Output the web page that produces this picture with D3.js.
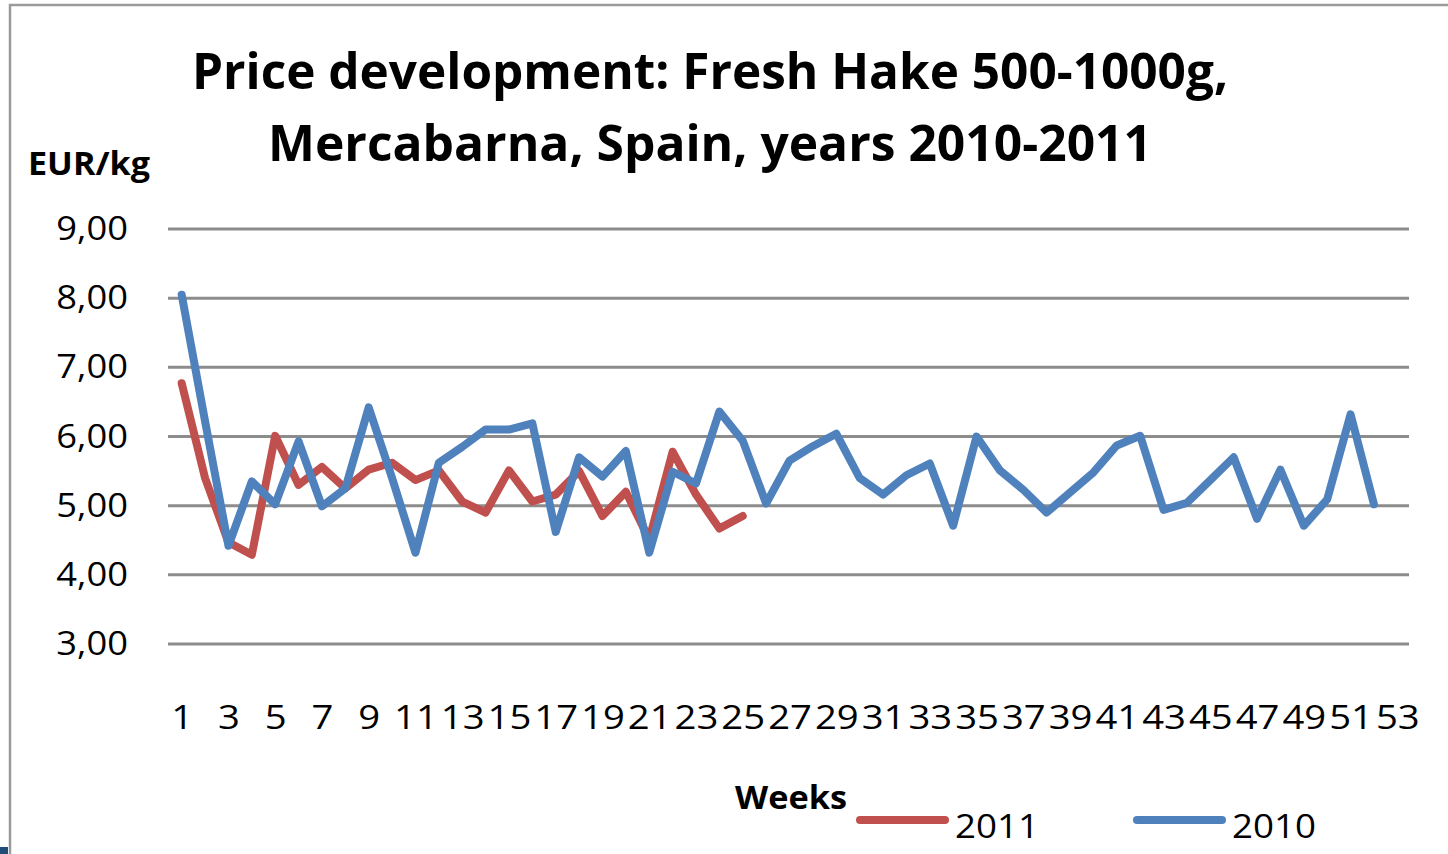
<!DOCTYPE html>
<html>
<head>
<meta charset="utf-8">
<script src="https://cdn.jsdelivr.net/npm/d3@7"></script>
<style>
  html, body { margin: 0; padding: 0; background: #fff; }
  svg { display: block; }
  text { font-family: "Open Sans", "Liberation Sans", sans-serif; fill: #000; }
</style>
</head>
<body>
<div id="chart"></div>
<script>
// Fresh hake prices, Mercabarna - weekly EUR/kg
const weeks = [1,2,3,4,5,6,7,8,9,10,11,12,13,14,15,16,17,18,19,20,21,22,23,24,25,26,27,
  28,29,30,31,32,33,34,35,36,37,38,39,40,41,42,43,44,45,46,47,48,49,50,51,52,53];

const prices2011 = [6.77, 5.40, 4.47, 4.29, 6.01, 5.30, 5.56, 5.25, 5.52, 5.62, 5.37, 5.51, 5.06,
  4.90, 5.51, 5.06, 5.16, 5.50, 4.85, 5.20, 4.51, 5.78, 5.16, 4.67, 4.85];

const prices2010 = [8.05, 6.22, 4.42, 5.35, 5.02, 5.93, 4.99, 5.25, 6.42, 5.40, 4.32, 5.62, 5.85,
  6.10, 6.10, 6.19, 4.62, 5.70, 5.42, 5.79, 4.32, 5.49, 5.32, 6.36, 5.94, 5.03, 5.65, 5.86,
  6.04, 5.40, 5.16, 5.44, 5.61, 4.71, 6.00, 5.51, 5.23, 4.90, 5.19, 5.48, 5.87, 6.01, 4.94,
  5.04, 5.37, 5.70, 4.81, 5.52, 4.71, 5.09, 6.32, 5.02];

const yTicks = [3, 4, 5, 6, 7, 8, 9];

const seriesList = [
  {name: "2011", values: prices2011, color: "#C0504D"},
  {name: "2010", values: prices2010, color: "#4F81BD"}
];

const width = 1448, height = 854;
const svg = d3.select("#chart").append("svg")
  .attr("width", width)
  .attr("height", height);

// outer frame of the chart object
svg.append("path")
  .attr("d", `M10,${height} L10,5 L${width},5`)
  .attr("fill", "none")
  .attr("stroke", "#9a9a9a")
  .attr("stroke-width", 2.5);
svg.append("rect")
  .attr("x", 0).attr("y", 847).attr("width", 8).attr("height", 7)
  .attr("fill", "#1f4e79");

const x = d3.scalePoint()
  .domain(weeks)
  .range([170, 1409])
  .padding(0.5);

const y = d3.scaleLinear()
  .domain([3, 9])
  .range([644, 229]);

// gridlines
svg.append("g")
  .selectAll("line")
  .data(yTicks)
  .join("line")
  .attr("x1", 168)
  .attr("x2", 1409)
  .attr("y1", d => y(d))
  .attr("y2", d => y(d))
  .attr("stroke", "#8c8c8c")
  .attr("stroke-width", 3);

// y axis labels
const yAxis = svg.append("g")
  .attr("transform", "translate(128,0)")
  .call(d3.axisLeft(y).tickValues(yTicks).tickSize(0).tickPadding(0)
    .tickFormat(d => d3.format(".2f")(d).replace(".", ",")));
yAxis.select(".domain").remove();
yAxis.selectAll("text")
  .attr("font-size", 33)
  .attr("font-family", null)
  .attr("transform", "scale(1.1,1)")
  .attr("x", 0);

// x axis labels (odd weeks only)
const xAxis = svg.append("g")
  .attr("transform", "translate(0,700)")
  .call(d3.axisBottom(x).tickValues(weeks.filter(w => w % 2 === 1)).tickSize(0).tickPadding(0));
xAxis.select(".domain").remove();
xAxis.selectAll("text")
  .attr("font-size", 33)
  .attr("font-family", null)
  .attr("y", 0)
  .attr("dy", "0.88em")
  .attr("transform", "scale(1.16,1)");

// lines
const line = d3.line()
  .x((d, i) => x(weeks[i]))
  .y(d => y(d));

svg.append("g")
  .selectAll("path")
  .data(seriesList)
  .join("path")
  .attr("fill", "none")
  .attr("stroke", d => d.color)
  .attr("stroke-width", 8)
  .attr("stroke-linejoin", "round")
  .attr("stroke-linecap", "round")
  .attr("d", d => line(d.values));

// titles
const title = svg.append("g").attr("font-weight", "bold");
title.append("text")
  .attr("x", 192).attr("y", 89)
  .attr("font-size", 50)
  .attr("textLength", 1036).attr("lengthAdjust", "spacingAndGlyphs")
  .text("Price development: Fresh Hake 500-1000g,");
title.append("text")
  .attr("x", 268).attr("y", 161)
  .attr("font-size", 50)
  .attr("textLength", 884).attr("lengthAdjust", "spacingAndGlyphs")
  .text("Mercabarna, Spain, years 2010-2011");
title.append("text")
  .attr("x", 28).attr("y", 175)
  .attr("font-size", 32)
  .attr("textLength", 122).attr("lengthAdjust", "spacingAndGlyphs")
  .text("EUR/kg");
title.append("text")
  .attr("x", 735).attr("y", 809)
  .attr("font-size", 33)
  .attr("textLength", 112).attr("lengthAdjust", "spacingAndGlyphs")
  .text("Weeks");

// legend
const legendPos = [{lx: 860, tx: 955}, {lx: 1137, tx: 1232}];
const legend = svg.append("g")
  .selectAll("g")
  .data(seriesList)
  .join("g");
legend.append("line")
  .attr("x1", (d, i) => legendPos[i].lx)
  .attr("x2", (d, i) => legendPos[i].lx + 85)
  .attr("y1", 820).attr("y2", 820)
  .attr("stroke", d => d.color)
  .attr("stroke-width", 8)
  .attr("stroke-linecap", "round");
legend.append("text")
  .attr("x", (d, i) => legendPos[i].tx)
  .attr("y", 838)
  .attr("font-size", 33)
  .attr("textLength", 84).attr("lengthAdjust", "spacingAndGlyphs")
  .text(d => d.name);
</script>
</body>
</html>
